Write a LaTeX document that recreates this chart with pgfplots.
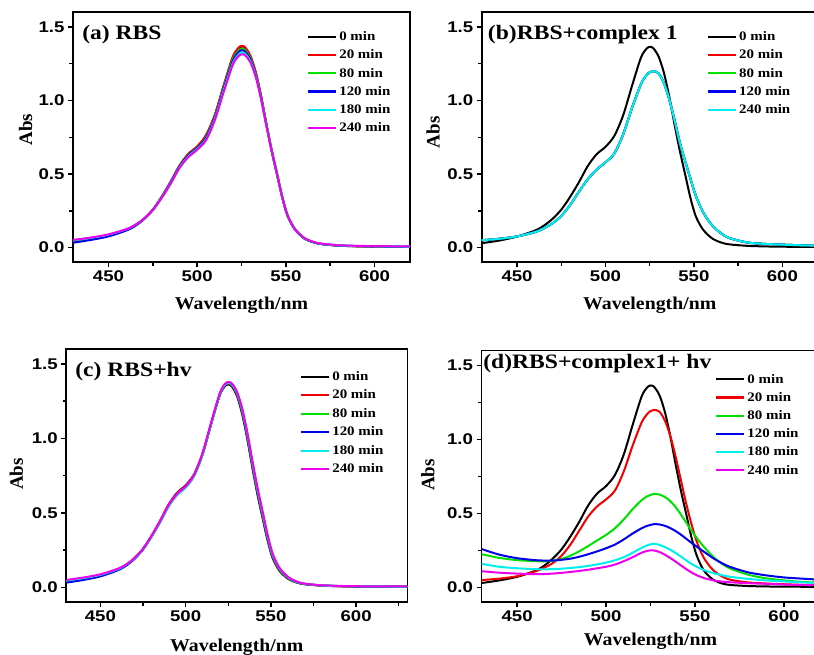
\documentclass[border=0pt]{standalone}
\usepackage{fontspec}
\setmainfont{Liberation Serif}
\newfontfamily\titlefont{Liberation Serif}[FakeStretch=1.15]
\newfontfamily\xlabfont{Liberation Serif}[FakeStretch=1.1]
\newfontfamily\tickfont{Liberation Sans}[FakeStretch=1.2]
\newfontfamily\legfont{Liberation Serif}[FakeStretch=1.15]
\usepackage{pgfplots}
\usepackage{pgfplotstable}
\pgfplotsset{compat=1.18}

\definecolor{cR}{RGB}{240,0,0}
\definecolor{cG}{RGB}{0,225,0}
\definecolor{cB}{RGB}{0,0,235}
\definecolor{cC}{RGB}{0,238,238}
\definecolor{cM}{RGB}{238,0,238}

\pgfplotstableread{
x c0 c20 c80 c120 c180 c240
430 0.040 0.042 0.045 0.033 0.050 0.052
440 0.058 0.060 0.062 0.052 0.066 0.068
450 0.082 0.084 0.086 0.076 0.088 0.090
460 0.120 0.121 0.122 0.116 0.124 0.125
465 0.150 0.151 0.152 0.147 0.153 0.154
470 0.195 0.196 0.196 0.193 0.196 0.196
475 0.258 0.259 0.257 0.256 0.256 0.255
480 0.345 0.346 0.343 0.342 0.340 0.338
485 0.445 0.447 0.441 0.440 0.436 0.433
490 0.555 0.557 0.550 0.548 0.543 0.540
495 0.635 0.637 0.628 0.626 0.620 0.615
500 0.685 0.688 0.678 0.676 0.670 0.665
505 0.760 0.765 0.750 0.745 0.735 0.730
510 0.900 0.905 0.890 0.885 0.875 0.868
515 1.100 1.105 1.090 1.082 1.070 1.060
520 1.290 1.295 1.275 1.265 1.250 1.240
523 1.350 1.355 1.335 1.325 1.308 1.298
525 1.368 1.372 1.352 1.342 1.325 1.314
527 1.358 1.362 1.343 1.333 1.318 1.308
530 1.300 1.305 1.288 1.280 1.268 1.260
533 1.190 1.195 1.180 1.175 1.168 1.162
536 1.030 1.035 1.022 1.020 1.015 1.012
539 0.840 0.845 0.836 0.835 0.834 0.832
542 0.660 0.664 0.658 0.658 0.660 0.660
545 0.500 0.503 0.500 0.500 0.502 0.503
548 0.340 0.342 0.341 0.342 0.344 0.345
551 0.215 0.216 0.216 0.217 0.219 0.220
555 0.125 0.126 0.126 0.127 0.128 0.129
560 0.065 0.066 0.066 0.067 0.068 0.069
565 0.038 0.038 0.039 0.039 0.040 0.041
570 0.024 0.024 0.025 0.025 0.026 0.027
580 0.013 0.013 0.014 0.014 0.015 0.016
590 0.009 0.009 0.010 0.010 0.011 0.012
600 0.007 0.007 0.008 0.008 0.009 0.010
610 0.006 0.006 0.007 0.007 0.008 0.009
620 0.005 0.005 0.006 0.006 0.007 0.008
}\tabA

\pgfplotstableread{
x c0 cx
430 0.030 0.050
440 0.048 0.060
450 0.075 0.076
460 0.115 0.105
465 0.148 0.130
470 0.195 0.165
475 0.258 0.215
480 0.345 0.290
485 0.445 0.380
490 0.555 0.465
495 0.635 0.530
500 0.685 0.580
505 0.760 0.640
510 0.900 0.770
515 1.100 0.950
520 1.290 1.110
523 1.350 1.170
525 1.365 1.192
527 1.356 1.200
530 1.300 1.185
533 1.190 1.120
536 1.030 1.010
539 0.840 0.870
542 0.660 0.715
545 0.500 0.590
548 0.340 0.470
551 0.215 0.355
555 0.125 0.245
560 0.065 0.155
565 0.036 0.100
570 0.022 0.065
580 0.012 0.035
590 0.008 0.025
600 0.006 0.020
610 0.005 0.016
620 0.005 0.013
}\tabB

\pgfplotstableread{
x c0 c20 c80 c120 c180 c240
430 0.040 0.042 0.044 0.032 0.046 0.050
440 0.058 0.060 0.061 0.050 0.062 0.066
450 0.082 0.083 0.084 0.074 0.084 0.088
460 0.120 0.121 0.121 0.114 0.121 0.124
465 0.150 0.151 0.151 0.145 0.151 0.153
470 0.195 0.196 0.195 0.191 0.195 0.197
475 0.258 0.259 0.257 0.254 0.256 0.259
480 0.345 0.346 0.343 0.340 0.341 0.346
485 0.445 0.446 0.441 0.438 0.438 0.445
490 0.555 0.555 0.549 0.545 0.544 0.552
495 0.635 0.632 0.626 0.622 0.620 0.628
500 0.685 0.682 0.676 0.672 0.670 0.678
505 0.760 0.758 0.754 0.750 0.748 0.756
510 0.900 0.900 0.898 0.896 0.894 0.902
515 1.100 1.102 1.102 1.100 1.100 1.108
520 1.290 1.295 1.296 1.295 1.296 1.302
523 1.350 1.356 1.358 1.358 1.360 1.366
525 1.362 1.368 1.370 1.371 1.373 1.378
527 1.350 1.357 1.360 1.362 1.364 1.370
530 1.288 1.298 1.303 1.306 1.309 1.316
533 1.170 1.183 1.190 1.195 1.199 1.208
536 1.005 1.020 1.028 1.034 1.040 1.050
539 0.812 0.828 0.836 0.842 0.848 0.860
542 0.630 0.646 0.654 0.660 0.666 0.678
545 0.472 0.486 0.494 0.500 0.506 0.518
548 0.318 0.330 0.337 0.342 0.348 0.358
551 0.198 0.207 0.212 0.216 0.220 0.228
555 0.112 0.118 0.121 0.124 0.127 0.132
560 0.058 0.062 0.064 0.066 0.068 0.071
565 0.033 0.035 0.036 0.037 0.038 0.040
570 0.021 0.022 0.023 0.023 0.024 0.025
580 0.012 0.012 0.013 0.013 0.013 0.014
590 0.008 0.008 0.009 0.009 0.009 0.010
600 0.006 0.007 0.007 0.007 0.008 0.008
610 0.005 0.006 0.006 0.006 0.007 0.007
620 0.005 0.005 0.005 0.006 0.006 0.007
630 0.004 0.005 0.005 0.005 0.006 0.006
}\tabC

\pgfplotstableread{
x c0 c20 c80 c120 c180 c240
430 0.030 0.050 0.225 0.260 0.160 0.110
440 0.048 0.060 0.200 0.222 0.140 0.100
450 0.072 0.076 0.185 0.198 0.130 0.094
460 0.112 0.108 0.178 0.185 0.124 0.090
465 0.145 0.132 0.177 0.182 0.123 0.091
470 0.195 0.165 0.180 0.182 0.124 0.094
475 0.258 0.215 0.193 0.187 0.127 0.099
480 0.345 0.290 0.215 0.195 0.132 0.105
485 0.445 0.385 0.245 0.208 0.138 0.112
490 0.555 0.480 0.280 0.225 0.146 0.120
495 0.635 0.548 0.318 0.244 0.156 0.130
500 0.685 0.595 0.355 0.265 0.168 0.140
505 0.760 0.655 0.400 0.290 0.184 0.155
510 0.900 0.785 0.460 0.325 0.205 0.178
515 1.100 0.960 0.530 0.365 0.235 0.205
520 1.290 1.115 0.590 0.400 0.268 0.235
523 1.350 1.170 0.615 0.416 0.284 0.247
525 1.365 1.192 0.626 0.423 0.292 0.251
527 1.356 1.200 0.632 0.428 0.295 0.250
530 1.300 1.188 0.628 0.426 0.288 0.240
533 1.190 1.130 0.612 0.417 0.274 0.222
536 1.030 1.030 0.585 0.402 0.256 0.200
539 0.840 0.890 0.545 0.382 0.234 0.176
542 0.660 0.730 0.495 0.358 0.210 0.150
545 0.500 0.570 0.440 0.330 0.184 0.125
548 0.340 0.430 0.385 0.302 0.160 0.102
551 0.215 0.310 0.335 0.276 0.140 0.083
555 0.115 0.200 0.275 0.242 0.118 0.064
560 0.055 0.120 0.210 0.200 0.098 0.049
565 0.028 0.076 0.162 0.165 0.083 0.040
570 0.017 0.052 0.127 0.138 0.072 0.035
580 0.010 0.034 0.086 0.102 0.058 0.029
590 0.007 0.027 0.062 0.082 0.048 0.025
600 0.006 0.022 0.048 0.068 0.041 0.020
610 0.005 0.018 0.038 0.060 0.035 0.017
620 0.005 0.016 0.032 0.053 0.030 0.015
}\tabD

\pgfplotsset{
  panel/.style={
    scale only axis,
    ymin=-0.1, ymax=1.6, xmin=430,
    axis line style={line width=1.6pt},
    tick pos=left, tick align=outside,
    xtick={450,500,550,600}, minor xtick={475,525,575,625},
    ytick={0,0.5,1,1.5}, minor ytick={0.25,0.75,1.25},
    major tick length=5pt, minor tick length=3.5pt,
    every tick/.style={line width=1.4pt, black},
    /pgf/number format/assume math mode=true,
    tick label style={font=\tickfont\bfseries\fontsize{15.5}{15.5}\selectfont},
    yticklabel style={/pgf/number format/.cd, fixed, fixed zerofill, precision=1},
    xticklabel style={/pgf/number format/.cd, 1000 sep={}},
    xlabel={Wavelength/nm}, ylabel={Abs},
    xlabel style={font=\xlabfont\bfseries\fontsize{18}{18}\selectfont, anchor=base, inner sep=0pt},
    ylabel style={font=\bfseries\fontsize{19}{19}\selectfont, anchor=south, inner sep=0pt},
    legend style={draw=none, fill=none, anchor=north west, inner sep=0pt,
      font=\legfont\bfseries\fontsize{13}{13}\selectfont,
      nodes={inner sep=1pt, text height=9.5pt, text depth=2pt},
      row sep=4.7pt, column sep=1pt},
    legend cell align=left,
    legend image code/.code={\draw[#1, line width=2.2pt] (0pt,0pt) -- (28pt,0pt);},
    every axis plot/.append style={line width=2pt, smooth, tension=0.5},
  },
}
\tikzset{ttl/.style={font=\titlefont\bfseries\fontsize{20.5}{20.5}\selectfont, anchor=base west, inner sep=0pt}}

\begin{document}
\begin{tikzpicture}
\path[use as bounding box] (0pt,0pt) rectangle (814pt,655pt);

% (a)
\begin{axis}[panel, at={(73pt,392.7pt)}, anchor=south west,
  width=337pt, height=250pt, xmax=620,
  xlabel style={at={(axis description cs:0.5,-0.19)}},
  ylabel style={at={(axis description cs:-0.12,0.53)}},
  legend style={at={(axis description cs:0.694,0.929)}}]
\addplot[black] table[x=x,y=c0] {\tabA};
\addplot[cR] table[x=x,y=c20] {\tabA};
\addplot[cG] table[x=x,y=c80] {\tabA};
\addplot[cB] table[x=x,y=c120] {\tabA};
\addplot[cC] table[x=x,y=c180] {\tabA};
\addplot[cM] table[x=x,y=c240] {\tabA};
\legend{0 min,20 min,80 min,120 min,180 min,240 min}
\node[ttl] at (axis description cs:0.027,0.892) {(a) RBS};
\end{axis}

% (b)
\begin{axis}[panel, at={(481.7pt,392.7pt)}, anchor=south west,
  width=336pt, height=250pt, xmax=620,
  xlabel style={at={(axis description cs:0.5,-0.19)}},
  ylabel style={at={(axis description cs:-0.124,0.52)}},
  legend style={at={(axis description cs:0.670,0.929)}}]
\addplot[black] table[x=x,y=c0] {\tabB};
\addplot[cR] table[x=x,y=cx] {\tabB};
\addplot[cG] table[x=x,y=cx] {\tabB};
\addplot[cB] table[x=x,y=cx] {\tabB};
\addplot[cC] table[x=x,y=cx] {\tabB};
\legend{0 min,20 min,80 min,120 min,240 min}
\node[ttl] at (axis description cs:0.018,0.893) {(b)RBS+complex 1};
\end{axis}

% (c)
\begin{axis}[panel, at={(66.3pt,52.7pt)}, anchor=south west,
  width=341pt, height=253.3pt, xmax=630,
  xlabel style={at={(axis description cs:0.5,-0.196)}},
  ylabel style={at={(axis description cs:-0.126,0.506)}},
  legend style={at={(axis description cs:0.685,0.918)}, row sep=5pt}]
\addplot[black] table[x=x,y=c0] {\tabC};
\addplot[cR] table[x=x,y=c20] {\tabC};
\addplot[cG] table[x=x,y=c80] {\tabC};
\addplot[cB] table[x=x,y=c120] {\tabC};
\addplot[cC] table[x=x,y=c180] {\tabC};
\addplot[cM] table[x=x,y=c240] {\tabC};
\legend{0 min,20 min,80 min,120 min,180 min,240 min}
\node[ttl] at (axis description cs:0.026,0.891) {(c) RBS+hv};
\end{axis}

% (d)
\begin{axis}[panel, at={(481.5pt,52.7pt)}, anchor=south west,
  width=338pt, height=251.6pt, xmax=620,
  xlabel style={at={(axis description cs:0.5,-0.17)}},
  ylabel style={at={(axis description cs:-0.138,0.506)}},
  legend style={at={(axis description cs:0.691,0.914)}}]
\addplot[black] table[x=x,y=c0] {\tabD};
\addplot[cR] table[x=x,y=c20] {\tabD};
\addplot[cG] table[x=x,y=c80] {\tabD};
\addplot[cB] table[x=x,y=c120] {\tabD};
\addplot[cC] table[x=x,y=c180] {\tabD};
\addplot[cM] table[x=x,y=c240] {\tabD};
\legend{0 min,20 min,80 min,120 min,180 min,240 min}
\node[ttl] at (axis description cs:0.005,0.931) {(d)RBS+complex1+ hv};
\end{axis}
\end{tikzpicture}
\end{document}
